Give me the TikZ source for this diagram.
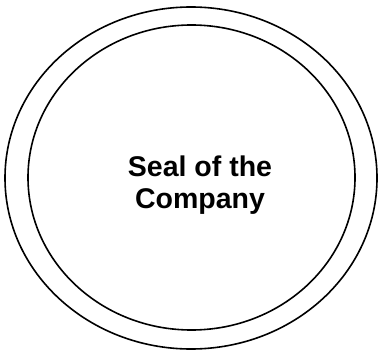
\documentclass[tikz,border=0pt]{standalone}
\usepackage{fontspec}
\setmainfont{Liberation Sans}
\begin{document}
\begin{tikzpicture}[x=1pt,y=1pt,
  ring/.style={draw=black,line width=1.6pt},
  sealtext/.style={align=center,inner sep=0pt,font=\bfseries\fontsize{28.5}{32}\selectfont}]
\useasboundingbox (0,0) rectangle (379,351);
\draw[ring] (191,173) ellipse [x radius=186, y radius=171];
\draw[ring] (191.5,173.5) ellipse [x radius=163.5, y radius=152.5];
\node[sealtext] (label) at (200,166) {Seal of the\\Company};
\end{tikzpicture}
\end{document}
